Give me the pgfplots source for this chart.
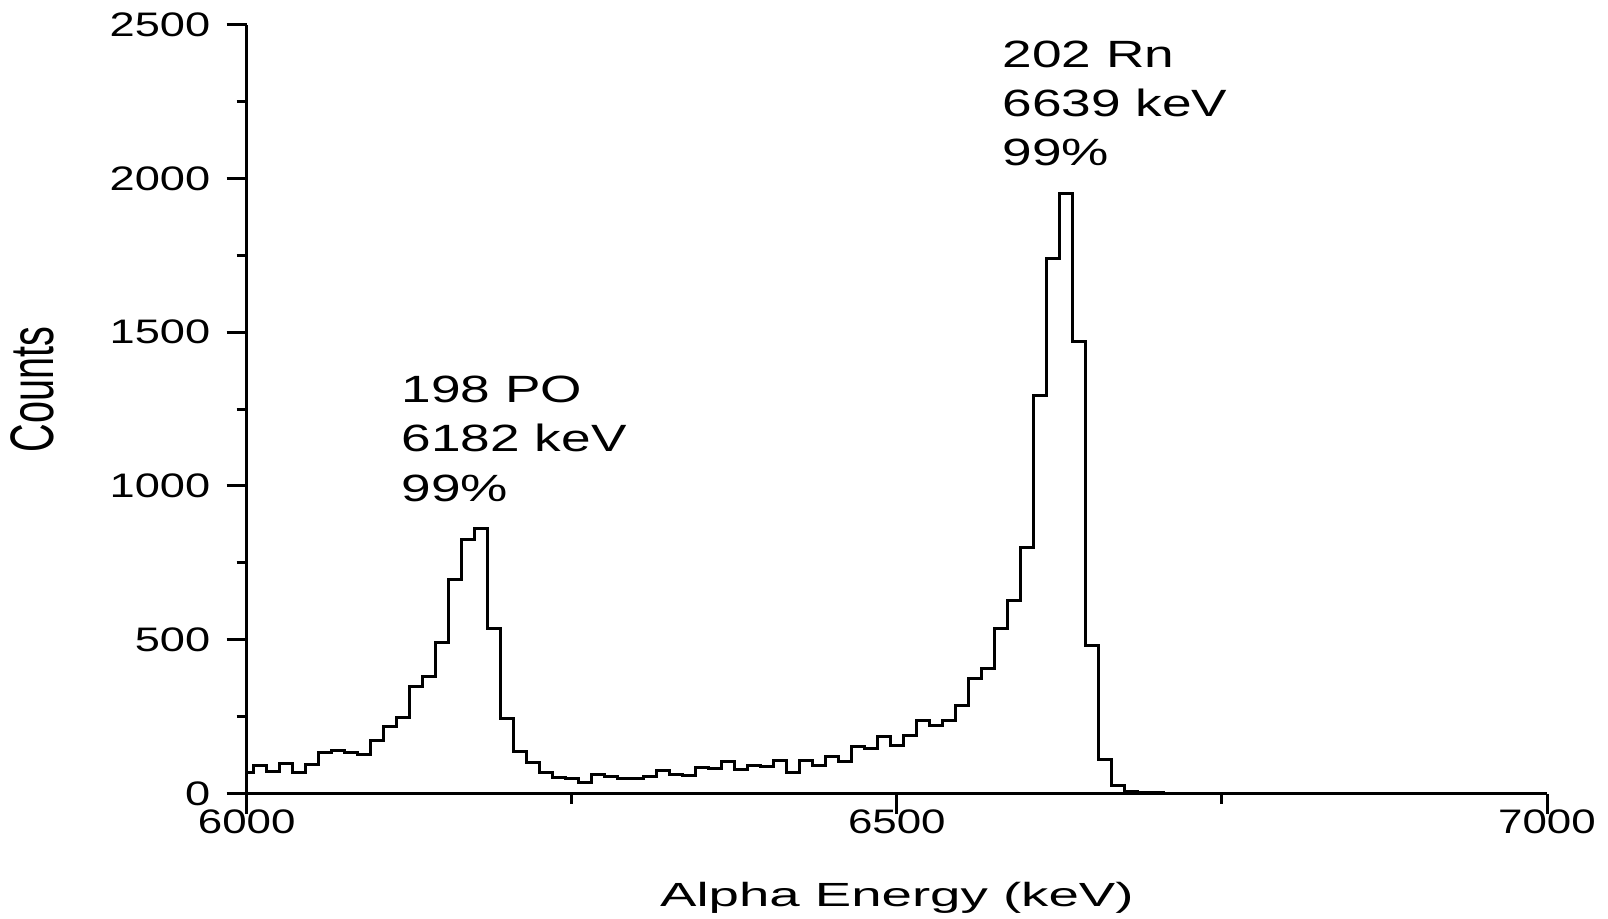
\documentclass[border=0pt]{standalone}
\usepackage{fontspec}
\setmainfont{Liberation Sans}
\usepackage{graphicx}
\usepackage{pgfplots}
\pgfplotsset{compat=1.18}

% horizontally widened text, as in the printed figure
\newcommand\wide[2]{\scalebox{#1}[1]{#2}}

% alpha spectrum: left bin edge (keV) and counts per 10 keV bin
\pgfplotstableread{
E C
6000 69
6005 92
6015 72
6025 98
6035 69
6045 94
6055 134
6065 141
6075 132
6085 128
6095 172
6105 219
6115 248
6125 347
6135 379
6145 492
6155 697
6165 827
6175 860
6185 535
6195 245
6205 138
6215 101
6225 69
6235 51
6245 49
6255 36
6265 61
6275 54
6285 49
6295 49
6305 56
6315 76
6325 62
6335 59
6345 84
6355 82
6365 103
6375 78
6385 92
6395 87
6405 108
6415 68
6425 108
6435 92
6445 119
6455 103
6465 152
6475 147
6485 185
6495 155
6505 187
6515 237
6525 221
6535 236
6545 285
6555 373
6565 405
6575 538
6585 627
6595 800
6605 1293
6615 1738
6625 1949
6635 1471
6645 481
6655 112
6665 25
6675 7
6685 2
6695 2
6705 0
7000 0
}\spectrum

\begin{document}
\begin{tikzpicture}
\begin{axis}[
  at={(0,0)}, anchor=south west, scale only axis,
  width=650.15pt, height=384.5pt,
  xmin=6000, xmax=7000, ymin=0, ymax=2500,
  axis x line*=bottom, axis y line*=left,
  axis line style={line width=1.5pt},
  every tick/.style={black, line width=1.5pt},
  tick align=outside,
  major tick length=10pt, minor tick length=5pt,
  xtick={6000,6500,7000}, minor xtick={6250,6750},
  xticklabels={\wide{1.29}{6000},\wide{1.29}{6500},\wide{1.29}{7000}},
  ytick={0,500,1000,1500,2000,2500},
  minor ytick={250,750,1250,1750,2250},
  yticklabels={\wide{1.33}{0},\wide{1.33}{500},\wide{1.33}{1000},\wide{1.33}{1500},\wide{1.33}{2000},\wide{1.33}{2500}},
  xticklabel style={font=\fontsize{17}{17}\selectfont, inner sep=0pt, yshift=2pt},
  yticklabel style={font=\fontsize{17}{17}\selectfont, inner sep=0pt, xshift=-8pt},
  xlabel={\wide{1.63}{Alpha Energy (keV)}},
  xlabel style={font=\fontsize{16.75}{16.75}\selectfont, at={(axis description cs:0.5,-0.1463)}, anchor=base, inner sep=0pt},
  ylabel={\scalebox{1}[1.55]{Counts}},
  ylabel style={font=\fontsize{19.8}{19.8}\selectfont, at={(axis description cs:-0.1646,0.525)}, anchor=center, inner sep=0pt},
  clip=false,
]
\addplot[const plot, line width=1.5pt, black] table[x=E, y=C]{\spectrum};

\begin{scope}[every node/.style={anchor=base west, inner sep=0pt, font=\fontsize{19}{19}\selectfont}]
\node at (axis cs:6119,1270) {\wide{1.4}{198 PO}};
\node at (axis cs:6119,1111) {\wide{1.4}{6182 keV}};
\node at (axis cs:6119,950)  {\wide{1.4}{99\%}};
\node at (axis cs:6581,2361) {\wide{1.4}{202 Rn}};
\node at (axis cs:6581,2201) {\wide{1.4}{6639 keV}};
\node at (axis cs:6581,2041) {\wide{1.4}{99\%}};
\end{scope}
\end{axis}
\pgfresetboundingbox
\path[use as bounding box] (-123.35pt,-62.25pt) rectangle (680.65pt,396.75pt);
\end{tikzpicture}
\end{document}
